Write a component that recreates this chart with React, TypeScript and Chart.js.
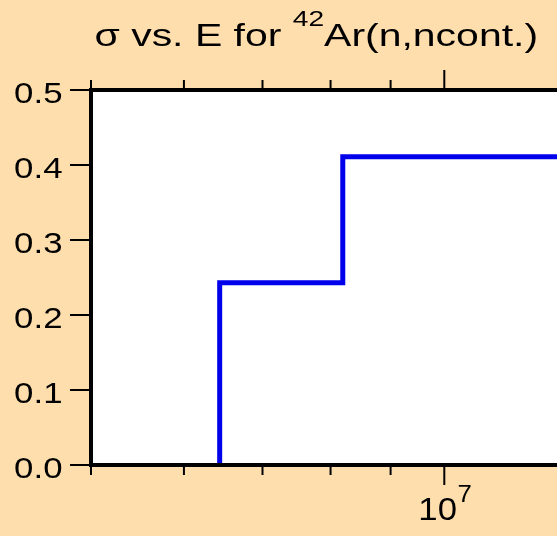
import React, { useEffect, useRef } from "react";
import { Chart, registerables } from "chart.js";

Chart.register(...registerables);

// ---- data ----
const energies = [6.436e6, 6.436e6, 8.194e6, 2.0e7];
const crossSections = [0, 0.243, 0.411, 0.411];

const xMin = 5e6;
const xMax = 2e7;
const yMin = 0;
const yMax = 0.5;

const xTickValues = [5e6, 6e6, 7e6, 8e6, 9e6, 1e7, 2e7];
const xMajorTicks = [1e7];
const xMajorBase = ["10"];
const xMajorExp = ["7"];

const yTickValues = [0, 0.1, 0.2, 0.3, 0.4, 0.5];
const yTickLabels = ["0.0", "0.1", "0.2", "0.3", "0.4", "0.5"];

const titlePre = "σ vs. E for ";
const titleSup = "42";
const titlePost = "Ar(n,ncont.)";

const FONT = '"Liberation Sans", Arial, Helvetica, sans-serif';
const BG = "#FFDEAD";
const LINE = "rgb(0,0,235)";

const CANVAS_W = 840;
const CANVAS_H = 536;

function stretchText(ctx: CanvasRenderingContext2D, text: string, x: number, y: number, sx: number) {
  ctx.save();
  ctx.translate(x, y);
  ctx.scale(sx, 1);
  ctx.fillText(text, 0, 0);
  ctx.restore();
}

const decor = {
  id: "decor",
  beforeDraw(chart: any) {
    const { ctx, width, height, chartArea: a } = chart;
    ctx.save();
    ctx.fillStyle = BG;
    ctx.fillRect(0, 0, width, height);
    ctx.fillStyle = "#ffffff";
    ctx.fillRect(a.left, a.top, a.right - a.left, a.bottom - a.top);
    ctx.restore();
  },
  afterDraw(chart: any) {
    const { ctx, chartArea: a, scales } = chart;
    const xs = scales.x;
    const ys = scales.y;
    ctx.save();
    ctx.strokeStyle = "#000";
    ctx.lineWidth = 4;
    ctx.strokeRect(a.left, a.top, a.right - a.left, a.bottom - a.top);

    ctx.lineWidth = 2;
    ctx.beginPath();
    for (const v of xTickValues) {
      const px = xs.getPixelForValue(v);
      const len = xMajorTicks.includes(v) ? 20 : 10;
      ctx.moveTo(px, a.bottom);
      ctx.lineTo(px, a.bottom + len);
      ctx.moveTo(px, a.top);
      ctx.lineTo(px, a.top - len);
    }
    for (const v of yTickValues) {
      const py = ys.getPixelForValue(v);
      ctx.moveTo(a.left, py);
      ctx.lineTo(a.left - 21, py);
      ctx.moveTo(a.right, py);
      ctx.lineTo(a.right + 21, py);
    }
    ctx.stroke();

    ctx.fillStyle = "#000";
    ctx.textBaseline = "alphabetic";
    // y labels
    ctx.font = `30px ${FONT}`;
    ctx.textAlign = "right";
    yTickValues.forEach((v, i) => {
      const py = ys.getPixelForValue(v);
      stretchText(ctx, yTickLabels[i], a.left - 28.5, py + 12.5, 1.16);
    });

    // x major labels (10^7)
    ctx.textAlign = "left";
    const sxX = 1.12;
    xMajorTicks.forEach((v, i) => {
      const px = xs.getPixelForValue(v);
      ctx.font = `31px ${FONT}`;
      const wb = ctx.measureText(xMajorBase[i]).width * sxX;
      ctx.font = `23px ${FONT}`;
      const we = ctx.measureText(xMajorExp[i]).width * sxX;
      const start = px - (wb + we) / 2 + 0.5;
      ctx.font = `31px ${FONT}`;
      stretchText(ctx, xMajorBase[i], start, a.bottom + 54.5, sxX);
      ctx.font = `23px ${FONT}`;
      stretchText(ctx, xMajorExp[i], start + wb + 0.5, a.bottom + 36.5, sxX);
    });

    // title
    const sxT = 1.28;
    let tx = 94.5;
    ctx.font = `32px ${FONT}`;
    stretchText(ctx, titlePre, tx, 46, sxT);
    tx += ctx.measureText(titlePre).width * sxT;
    ctx.font = `22px ${FONT}`;
    stretchText(ctx, titleSup, tx, 25.5, sxT);
    tx += ctx.measureText(titleSup).width * sxT;
    ctx.font = `32px ${FONT}`;
    stretchText(ctx, titlePost, tx, 46, sxT);
    ctx.restore();
  },
};

export default function App() {
  const ref = useRef<HTMLCanvasElement | null>(null);
  useEffect(() => {
    if (!ref.current) return;
    const chart = new Chart(ref.current, {
      type: "line",
      data: {
        datasets: [
          {
            data: energies.map((e, i) => ({ x: e, y: crossSections[i] })),
            borderColor: LINE,
            borderWidth: 5,
            stepped: true,
            pointRadius: 0,
            fill: false,
            tension: 0,
          },
        ],
      },
      options: {
        animation: false,
        responsive: false,
        devicePixelRatio: 1,
        layout: {
          padding: { left: 91, top: 90, right: CANVAS_W - 797.6, bottom: CANVAS_H - 465 },
        },
        plugins: { legend: { display: false }, tooltip: { enabled: false }, title: { display: false } },
        scales: {
          x: { type: "logarithmic", min: xMin, max: xMax, display: false },
          y: { type: "linear", min: yMin, max: yMax, display: false },
        },
      },
      plugins: [decor],
    });
    return () => chart.destroy();
  }, []);
  return (
    <div
      style={{
        position: "fixed",
        left: 0,
        top: 0,
        width: 557,
        height: 536,
        overflow: "hidden",
        background: BG,
      }}
    >
      <canvas ref={ref} width={CANVAS_W} height={CANVAS_H} style={{ display: "block" }} />
    </div>
  );
}
